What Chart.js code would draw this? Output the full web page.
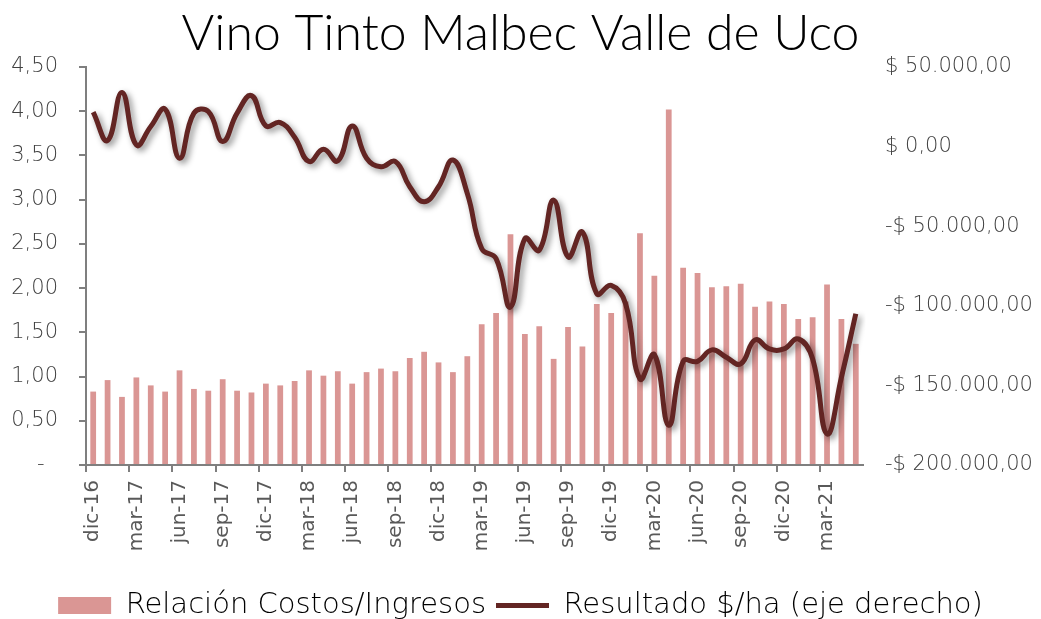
<!DOCTYPE html>
<html>
<head>
<meta charset="utf-8">
<script src="https://cdn.jsdelivr.net/npm/chart.js@4/dist/chart.umd.min.js"></script>
<style>
  html, body { margin: 0; padding: 0; background: #ffffff; }
  #wrap { width: 1041px; height: 619px; }
</style>
</head>
<body>
<div id="wrap"><canvas id="c" width="1041" height="619"></canvas></div>
<script>
const categories = [
  'dic-16','ene-17','feb-17','mar-17','abr-17','may-17','jun-17','jul-17','ago-17','sep-17','oct-17','nov-17',
  'dic-17','ene-18','feb-18','mar-18','abr-18','may-18','jun-18','jul-18','ago-18','sep-18','oct-18','nov-18',
  'dic-18','ene-19','feb-19','mar-19','abr-19','may-19','jun-19','jul-19','ago-19','sep-19','oct-19','nov-19',
  'dic-19','ene-20','feb-20','mar-20','abr-20','may-20','jun-20','jul-20','ago-20','sep-20','oct-20','nov-20',
  'dic-20','ene-21','feb-21','mar-21','abr-21','may-21'
];
const costRatio = [
  0.83,0.96,0.77,0.99,0.90,0.83,1.07,0.86,0.84,0.97,0.84,0.82,
  0.92,0.90,0.95,1.07,1.01,1.06,0.92,1.05,1.09,1.06,1.21,1.28,
  1.16,1.05,1.23,1.59,1.72,2.61,1.48,1.57,1.20,1.56,1.34,1.82,
  1.72,1.85,2.62,2.14,4.02,2.23,2.17,2.01,2.02,2.05,1.79,1.85,
  1.82,1.65,1.67,2.04,1.65,1.37
];
const resultPerHa = [
  21600,3800,34000,1000,12600,23500,-7300,21000,22000,3200,21000,32000,
  13000,15100,5900,-9400,-1700,-9000,13000,-7300,-12600,-9400,-25200,-34600,
  -25200,-8400,-29400,-64000,-70400,-100800,-57800,-65100,-33600,-69300,-53600,-92400,
  -87200,-98700,-146000,-130700,-175000,-135000,-134900,-127700,-132300,-136500,-121400,-127100,
  -127100,-120800,-133400,-180500,-145000,-105000
];
const xTickLabels = ['dic-16','mar-17','jun-17','sep-17','dic-17','mar-18','jun-18','sep-18','dic-18','mar-19','jun-19','sep-19','dic-19','mar-20','jun-20','sep-20','dic-20','mar-21'];
const leftTicks = [0, 0.5, 1, 1.5, 2, 2.5, 3, 3.5, 4, 4.5];
const rightTicks = [-200000, -150000, -100000, -50000, 0, 50000];

const seriesNames = ['Relación Costos/Ingresos', 'Resultado $/ha (eje derecho)'];
const titleText = 'Vino Tinto Malbec Valle de Uco';

const BAR_COLOR = '#DA9694';
const LINE_COLOR = '#632523';
const AXIS_COLOR = '#7F7F7F';
const TEXT_COLOR = '#404040';
const AXIS_FONT = { family: 'DejaVu Sans', size: 21, weight: '200' };

function fmtLeft(v) {
  if (Math.abs(v) < 1e-9) return '-  ';
  return v.toFixed(2).replace('.', ',');
}
function fmtRight(v) {
  const neg = v < 0;
  const a = Math.abs(v);
  const int = Math.round(a).toString().replace(/\B(?=(\d{3})+(?!\d))/g, '.');
  return (neg ? '-$ ' : '$ ') + int + ',00';
}

const shadowPlugin = {
  id: 'lineShadow',
  beforeDatasetDraw(chart, args) {
    if (args.meta.type === 'line') {
      const ctx = chart.ctx;
      ctx.save();
      ctx.shadowColor = 'rgba(0,0,0,0.45)';
      ctx.shadowBlur = 6;
      ctx.shadowOffsetX = 3;
      ctx.shadowOffsetY = 3;
    }
  },
  afterDatasetDraw(chart, args) {
    if (args.meta.type === 'line') chart.ctx.restore();
  }
};

new Chart(document.getElementById('c'), {
  data: {
    labels: categories,
    datasets: [
      {
        type: 'bar',
        label: seriesNames[0],
        data: costRatio,
        backgroundColor: BAR_COLOR,
        borderWidth: 0,
        barPercentage: 0.4,
        categoryPercentage: 1.0,
        yAxisID: 'y',
        order: 2,
        pointStyle: 'rect'
      },
      {
        type: 'line',
        label: seriesNames[1],
        data: resultPerHa,
        borderColor: LINE_COLOR,
        backgroundColor: LINE_COLOR,
        borderWidth: 5,
        pointRadius: 0,
        tension: 0.45,
        yAxisID: 'y1',
        order: 1,
        pointStyle: 'line'
      }
    ]
  },
  options: {
    responsive: false,
    animation: false,
    devicePixelRatio: 1,
    layout: { padding: { left: 0, right: 0, top: 0, bottom: -11 } },
    plugins: {
      title: {
        display: true,
        text: titleText,
        color: '#000000',
        font: { family: 'Lato', size: 50, weight: '300' },
        padding: { top: 4, bottom: 3 }
      },
      legend: {
        position: 'bottom',
        labels: {
          usePointStyle: true,
          pointStyleWidth: 53,
          boxHeight: 17,
          padding: 10,
          color: '#000000',
          font: { family: 'DejaVu Sans', size: 29, weight: '200' },
          sort: (a, b) => a.datasetIndex - b.datasetIndex
        }
      },
      tooltip: { enabled: false }
    },
    scales: {
      x: {
        offset: true,
        grid: {
          offset: true,
          drawOnChartArea: false,
          drawTicks: true,
          tickLength: 7,
          lineWidth: 2,
          color: (c) => (c.index % 3 === 0 ? AXIS_COLOR : 'rgba(0,0,0,0)')
        },
        border: { color: AXIS_COLOR, width: 2 },
        ticks: {
          autoSkip: false,
          minRotation: 90,
          maxRotation: 90,
          padding: 8,
          color: '#595959',
          font: { family: 'DejaVu Sans', size: 20 },
          callback: function (v, i) {
            const lab = categories[i];
            return xTickLabels.includes(lab) && i % 3 === 0 ? lab : '';
          }
        },
        afterFit: (s) => { s.height = 116; }
      },
      y: {
        position: 'left',
        min: 0,
        max: 4.5,
        afterBuildTicks: (s) => { s.ticks = leftTicks.map(v => ({ value: v })); },
        grid: {
          drawOnChartArea: false,
          drawTicks: true,
          tickLength: 7,
          lineWidth: 2,
          color: AXIS_COLOR
        },
        border: { color: AXIS_COLOR, width: 2 },
        ticks: {
          padding: 21,
          color: TEXT_COLOR,
          font: AXIS_FONT,
          callback: (v) => fmtLeft(v)
        },
        afterFit: (s) => { s.width = 86; }
      },
      y1: {
        position: 'right',
        min: -200000,
        max: 50000,
        afterBuildTicks: (s) => { s.ticks = rightTicks.map(v => ({ value: v })); },
        grid: { display: false, drawOnChartArea: false },
        border: { display: false },
        ticks: {
          padding: 14,
          color: TEXT_COLOR,
          font: AXIS_FONT,
          callback: (v) => fmtRight(v)
        },
        afterFit: (s) => { s.width = 178; }
      }
    }
  },
  plugins: [shadowPlugin]
});
</script>
</body>
</html>
